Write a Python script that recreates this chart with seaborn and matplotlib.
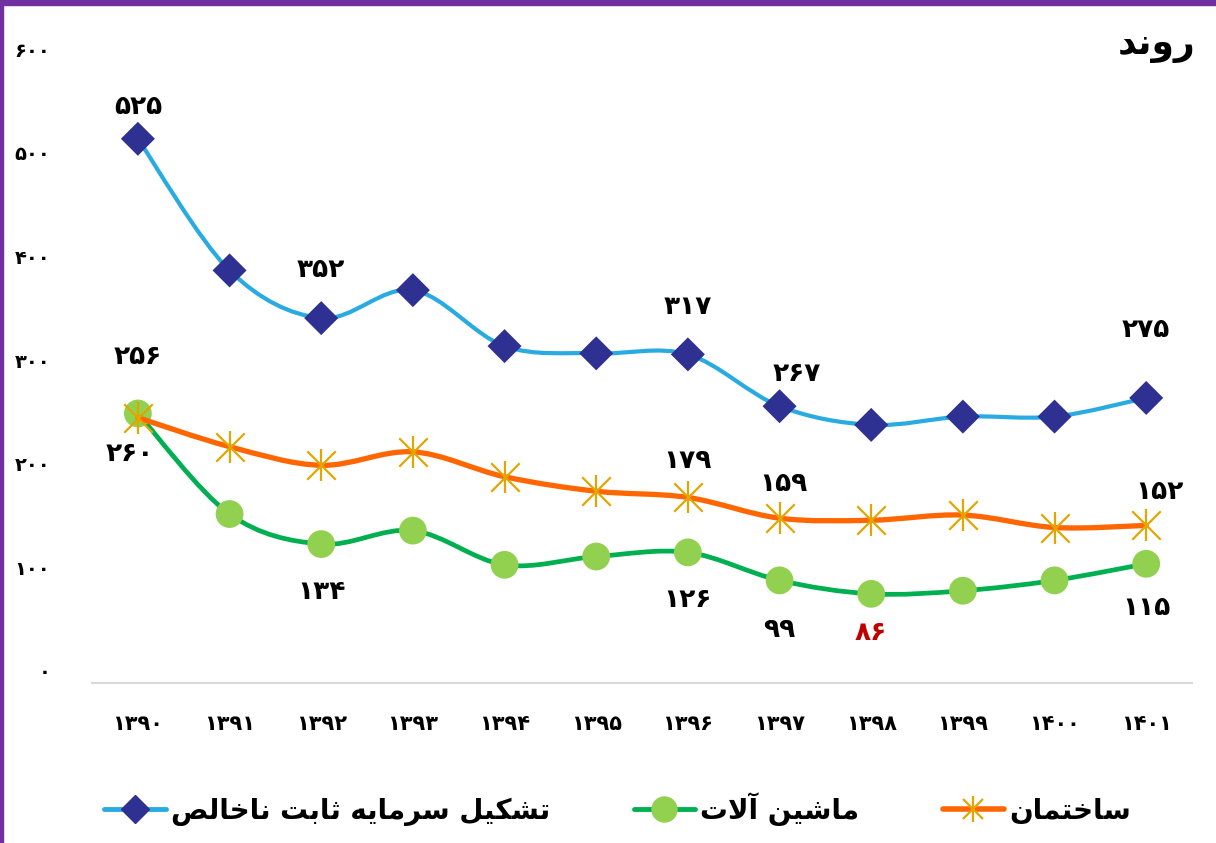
import matplotlib
matplotlib.use("Agg")
import matplotlib.pyplot as plt
from matplotlib.path import Path
from matplotlib.patches import PathPatch, Rectangle
from matplotlib.lines import Line2D
from matplotlib.legend_handler import HandlerTuple
import matplotlib.transforms as mtransforms
import seaborn as sns

# ---- data ----
years = ["1390", "1391", "1392", "1393", "1394", "1395",
         "1396", "1397", "1398", "1399", "1400", "1401"]
gfcf = [525, 398, 352, 379, 325, 318, 317, 267, 249, 257, 257, 275]
machinery = [260, 163, 134, 147, 114, 122, 126, 99, 86, 89, 99, 115]
construction = [256, 228, 210, 223, 199, 185, 179, 159, 157, 162, 150, 152]

name_gfcf = "تشکیل سرمایه ثابت ناخالص"
name_mach = "ماشین آلات"
name_cons = "ساختمان"
title_text = "روند"
yticks = [0, 100, 200, 300, 400, 500, 600]

# which points get a value label, and its offset in pixels
labels_gfcf = {0: (0, -32), 2: (0, -48), 6: (0, -47), 7: (17, -32), 11: (0, -68)}
labels_cons = {0: (0, -61), 6: (0, -36), 7: (4, -34), 11: (13, -33)}
labels_mach = {0: (-8, 41), 2: (0, 48), 6: (0, 48), 7: (0, 50), 8: (0, 39), 11: (0, 44)}

# ---- simple Arabic shaping (matplotlib has no text shaping) ----
FORMS = {
    "ا": ("\uFE8D", "\uFE8E", None, None),
    "آ": ("\uFE81", "\uFE82", None, None),
    "ب": ("\uFE8F", "\uFE90", "\uFE91", "\uFE92"),
    "ت": ("\uFE95", "\uFE96", "\uFE97", "\uFE98"),
    "ث": ("\uFE99", "\uFE9A", "\uFE9B", "\uFE9C"),
    "خ": ("\uFEA5", "\uFEA6", "\uFEA7", "\uFEA8"),
    "د": ("\uFEA9", "\uFEAA", None, None),
    "ر": ("\uFEAD", "\uFEAE", None, None),
    "س": ("\uFEB1", "\uFEB2", "\uFEB3", "\uFEB4"),
    "ش": ("\uFEB5", "\uFEB6", "\uFEB7", "\uFEB8"),
    "ص": ("\uFEB9", "\uFEBA", "\uFEBB", "\uFEBC"),
    "ل": ("\uFEDD", "\uFEDE", "\uFEDF", "\uFEE0"),
    "م": ("\uFEE1", "\uFEE2", "\uFEE3", "\uFEE4"),
    "ن": ("\uFEE5", "\uFEE6", "\uFEE7", "\uFEE8"),
    "ه": ("\uFEE9", "\uFEEA", "\uFEEB", "\uFEEC"),
    "و": ("\uFEED", "\uFEEE", None, None),
    "ک": ("\uFB8E", "\uFB8F", "\uFB90", "\uFB91"),
    "ی": ("\uFBFC", "\uFBFD", "\uFBFE", "\uFBFF"),
}
LAM_ALEF = {"ا": ("\uFEFB", "\uFEFC"), "آ": ("\uFEF5", "\uFEF6")}


def joins_left(c):
    return c in FORMS and FORMS[c][2] is not None


def shape(text):
    out = []
    i = 0
    n = len(text)
    while i < n:
        c = text[i]
        if c not in FORMS:
            out.append(c)
            i += 1
            continue
        prev_join = i > 0 and joins_left(text[i - 1])
        if c == "ل" and i + 1 < n and text[i + 1] in LAM_ALEF:
            out.append(LAM_ALEF[text[i + 1]][1 if prev_join else 0])
            i += 2
            continue
        next_join = joins_left(c) and i + 1 < n and text[i + 1] in FORMS
        iso, fin, ini, med = FORMS[c]
        if prev_join and next_join:
            out.append(med)
        elif prev_join:
            out.append(fin)
        elif next_join:
            out.append(ini)
        else:
            out.append(iso)
        i += 1
    return "".join(reversed(out))


def fa(num):
    return str(num).translate(str.maketrans("0123456789", "۰۱۲۳۴۵۶۷۸۹"))


def smooth_path(xs, ys):
    # cubic bezier through all points (Excel-like smoothed line)
    pts = list(zip(xs, ys))
    verts = [pts[0]]
    codes = [Path.MOVETO]
    for i in range(len(pts) - 1):
        p0 = pts[i - 1] if i > 0 else pts[i]
        p1 = pts[i]
        p2 = pts[i + 1]
        p3 = pts[i + 2] if i + 2 < len(pts) else pts[i + 1]
        c1 = (p1[0] + (p2[0] - p0[0]) / 6, p1[1] + (p2[1] - p0[1]) / 6)
        c2 = (p2[0] - (p3[0] - p1[0]) / 6, p2[1] - (p3[1] - p1[1]) / 6)
        verts += [c1, c2, p2]
        codes += [Path.CURVE4] * 3
    return Path(verts, codes)


sns.set_style("white")
plt.rcParams["font.family"] = ["DejaVu Sans"]
plt.rcParams["font.weight"] = "bold"
plt.rcParams["text.color"] = "black"
plt.rcParams["xtick.color"] = "black"
plt.rcParams["ytick.color"] = "black"

fig = plt.figure(figsize=(12.16, 8.43), dpi=100)
ax = fig.add_axes([0.0757, 0.1898, 0.9046, 0.7378])
x = list(range(len(years)))

blue_line, blue_mark = "#29ABE2", "#2E3192"
green_line, green_mark = "#00B050", "#92D050"
orange_line, gold = "#FF6600", "#E3A600"

# machinery (bottom layer)
ax.add_patch(PathPatch(smooth_path(x, machinery), fill=False, edgecolor=green_line,
                       lw=3.4, capstyle="round", zorder=2))
sns.scatterplot(x=x, y=machinery, marker="o", s=400, color=green_mark,
                edgecolor="none", ax=ax, zorder=3)

# construction
ax.add_patch(PathPatch(smooth_path(x, construction), fill=False, edgecolor=orange_line,
                       lw=3.8, capstyle="round", zorder=4))
sns.scatterplot(x=x, y=construction, marker="x", s=420, color=gold,
                linewidth=1.6, ax=ax, zorder=5)
sns.scatterplot(x=x, y=construction, marker="|", s=520, color=gold,
                linewidth=1.6, ax=ax, zorder=5)

# gross fixed capital formation (top)
ax.add_patch(PathPatch(smooth_path(x, gfcf), fill=False, edgecolor=blue_line,
                       lw=3.0, capstyle="round", zorder=6))
sns.scatterplot(x=x, y=gfcf, marker="D", s=300, color=blue_mark,
                edgecolor="none", ax=ax, zorder=7)

# value labels
for series, lab in [(gfcf, labels_gfcf), (construction, labels_cons), (machinery, labels_mach)]:
    for i, (dx, dy) in lab.items():
        col = "#C00000" if series is machinery and i == 8 else "black"
        ax.annotate(fa(series[i]), (x[i], series[i]), xytext=(dx, -dy),
                    textcoords="offset pixels", ha="center", va="center",
                    fontsize=19, fontweight="bold", color=col, zorder=8)

ax.set_xlim(-0.5, len(years) - 0.5)
ax.set_ylim(0, 600)
ax.set_xticks(x)
ax.set_xticklabels([fa(y) for y in years], fontsize=15, fontweight="bold")
ax.set_yticks(yticks)
ax.set_yticklabels([fa(v) for v in yticks], fontsize=14, fontweight="bold")
ax.tick_params(axis="x", length=0, pad=22)
ax.tick_params(axis="y", length=0, pad=30)
shift = mtransforms.ScaledTranslation(0, 12 / 100, fig.dpi_scale_trans)
for t in ax.get_yticklabels():
    t.set_transform(t.get_transform() + shift)
for side in ["top", "right", "left"]:
    ax.spines[side].set_visible(False)
ax.spines["bottom"].set_color("#D9D9D9")
ax.spines["bottom"].set_linewidth(1.5)
ax.grid(False)

fig.text(0.983, 0.945, shape(title_text), ha="right", va="center",
         fontsize=26, fontweight="bold", color="black")

# legend
h_blue = Line2D([], [], color=blue_line, lw=3.5, marker="D", ms=14,
                mfc=blue_mark, mec=blue_mark, solid_capstyle="round")
h_green = Line2D([], [], color=green_line, lw=3.5, marker="o", ms=18,
                 mfc=green_mark, mec=green_mark, solid_capstyle="round")
h_or_line = Line2D([], [], color=orange_line, lw=4, solid_capstyle="round")
h_or_x = Line2D([], [], ls="none", marker="x", ms=15, mec=gold, mew=1.6)
h_or_v = Line2D([], [], ls="none", marker="|", ms=19, mec=gold, mew=1.6)
leg = fig.legend([h_blue, h_green, (h_or_line, h_or_x, h_or_v)],
                 [shape(name_gfcf), shape(name_mach), shape(name_cons)],
                 handler_map={tuple: HandlerTuple(ndivide=1, pad=0)},
                 loc="center", bbox_to_anchor=(0.508, 0.04), ncol=3, frameon=False,
                 handlelength=2.2, columnspacing=3.0, handletextpad=0.2,
                 prop={"weight": "bold", "size": 20})
for t in leg.get_texts():
    t.set_color("black")

# purple frame on top and left
fig.patches.append(Rectangle((0, 0.994), 1, 0.006, transform=fig.transFigure,
                             color="#7030A0", zorder=10))
fig.patches.append(Rectangle((0, 0), 0.0028, 1, transform=fig.transFigure,
                             color="#7030A0", zorder=10))

fig.savefig("out.png", dpi=100)
